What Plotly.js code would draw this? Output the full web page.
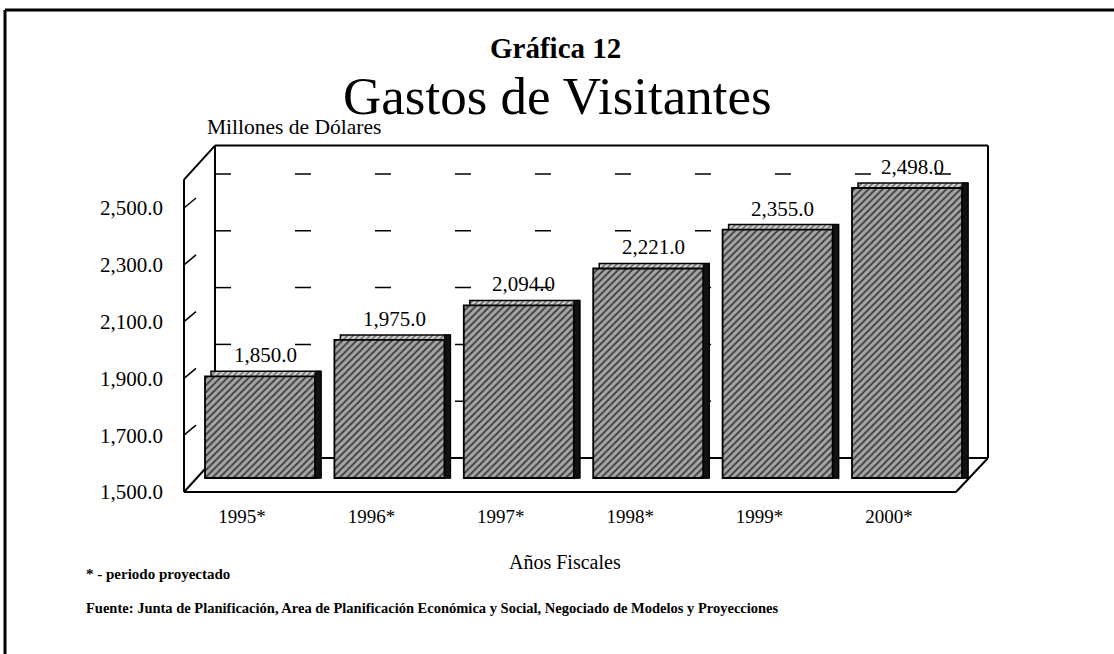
<!DOCTYPE html>
<html>
<head>
<meta charset="utf-8">
<script src="https://cdn.plot.ly/plotly-3.0.1.min.js"></script>
<style>
html,body{margin:0;padding:0;background:#ffffff;}
#chart{width:1114px;height:654px;}
</style>
</head>
<body>
<div id="chart"></div>
<script>
// ---------------- data ----------------
const years = ['1995*', '1996*', '1997*', '1998*', '1999*', '2000*'];
const gastos = [1850.0, 1975.0, 2094.0, 2221.0, 2355.0, 2498.0];
const valueLabels = ['1,850.0', '1,975.0', '2,094.0', '2,221.0', '2,355.0', '2,498.0'];
const yTickVals = [1500, 1700, 1900, 2100, 2300, 2500];
const yTickText = ['1,500.0', '1,700.0', '1,900.0', '2,100.0', '2,300.0', '2,500.0'];
const gridVals = [1700, 1900, 2100, 2300, 2500];

// ---------------- layout geometry (pixels) ----------------
const W = 1114, H = 654;
const px = x => x / W;
const py = y => 1 - y / H;
const BASE = 1500, WALLTOP = 2600;
const barBottomPix = 478, barScale = 0.2906;   // bar plane
const frontBottomPix = 492, axScale = 0.284;   // front (axis) plane
const backBottomPix = 458;                      // back wall plane
const domBottomPix = 500, domTopPix = 120;
const frontX = 184, backX = 215, backRight = 988, frontRight = 956;
const frontPix = v => frontBottomPix - (v - BASE) * axScale;
const backPix = v => backBottomPix - (v - BASE) * axScale;

const rangeFor = (bottomPix, scale) => [BASE - (domBottomPix - bottomPix) / scale, BASE + (bottomPix - domTopPix) / scale];

const slotPx = 129.4, firstCenter = 260;
const barW = 110 / slotPx;
const sideW = 6 / slotPx;
const topLift = 5 / barScale;

const serif = 'Liberation Serif, Times New Roman, serif';
const black = '#000000';

const patternFront = {shape: '/', bgcolor: '#a6a6a6', fgcolor: '#404040', size: 5, solidity: 0.38, fillmode: 'replace'};
const patternTop = {shape: '/', bgcolor: '#d0d0d0', fgcolor: '#555555', size: 4, solidity: 0.3, fillmode: 'replace'};

const heights = gastos.map(v => v - BASE);
const heightsTop = gastos.map(v => v + topLift - BASE);

const traces = [
  // helpers so the front and back axes exist
  {type: 'scatter', x: [years[0]], y: [BASE], yaxis: 'y2', mode: 'markers', marker: {opacity: 0}, hoverinfo: 'skip', showlegend: false},
  {type: 'scatter', x: [years[0]], y: [BASE], yaxis: 'y3', mode: 'markers', marker: {opacity: 0}, hoverinfo: 'skip', showlegend: false},
  // top face (shifted back)
  {type: 'bar', x: years, y: heightsTop, base: BASE, width: barW, offset: -barW / 2 + sideW,
   marker: {color: '#c8c8c8', pattern: patternTop, line: {color: black, width: 1.5}}, hoverinfo: 'skip', showlegend: false},
  // dark side face
  {type: 'bar', x: years, y: heightsTop, base: BASE, width: sideW, offset: barW / 2,
   marker: {color: '#111111', line: {color: black, width: 1}}, hoverinfo: 'skip', showlegend: false},
  // front face
  {type: 'bar', x: years, y: heights, base: BASE, width: barW, offset: -barW / 2,
   marker: {color: '#a6a6a6', pattern: patternFront, line: {color: black, width: 1.8}}, showlegend: false}
];

const shapes = [];
const L = (x0, y0, x1, y1, w) => shapes.push({type: 'line', xref: 'paper', yref: 'paper', x0: px(x0), y0: py(y0), x1: px(x1), y1: py(y1), line: {color: black, width: w || 2}, layer: 'below'});
// page frame
L(5, 10, W, 10, 3);
L(5, 10, 5, H, 3);
// back wall
L(backX, backPix(BASE), backX, backPix(WALLTOP), 2);
L(backX, backPix(WALLTOP), backRight, backPix(WALLTOP), 2);
L(backRight, backPix(WALLTOP), backRight, backPix(BASE), 2);
// floor
L(backX, backPix(BASE), backRight, backPix(BASE), 2);
L(frontX, frontPix(BASE), frontRight, frontPix(BASE), 2);
L(frontX, frontPix(BASE), backX, backPix(BASE), 2);
L(frontRight, frontPix(BASE), backRight, backPix(BASE), 2);
// front axis and left wall top
L(frontX, frontPix(BASE), frontX, frontPix(WALLTOP), 2);
L(frontX, frontPix(WALLTOP), backX, backPix(WALLTOP), 2);
// slanted ticks on the front axis
gridVals.forEach(v => shapes.push({type: 'line', xref: 'paper', x0: px(frontX), x1: px(frontX + 12),
  yref: 'y2', ysizemode: 'pixel', yanchor: v, y0: 0, y1: 10, line: {color: black, width: 1.5}, layer: 'below'}));
// dashed gridlines on the back wall
gridVals.forEach(v => shapes.push({type: 'line', xref: 'paper', x0: px(backX), x1: px(backRight - 2),
  yref: 'y3', y0: v, y1: v, line: {color: black, width: 1.5, dash: '16px,64px'}, layer: 'below'}));

const annotations = [
  {text: '<b>Gráfica 12</b>', xref: 'paper', yref: 'paper', x: px(555), y: py(64.5), xanchor: 'center', yanchor: 'bottom',
   borderpad: 0, showarrow: false, font: {family: serif, size: 29, color: black}},
  {text: 'Gastos de Visitantes', xref: 'paper', yref: 'paper', x: px(557), y: py(65.5), xanchor: 'center', yanchor: 'top',
   borderpad: 0, showarrow: false, font: {family: serif, size: 53, color: black}},
  {text: 'Millones de Dólares', xref: 'paper', yref: 'paper', x: px(205), y: py(127), xanchor: 'left', yanchor: 'middle', showarrow: false, font: {family: serif, size: 21.5, color: black}},
  {text: 'Años Fiscales', xref: 'paper', yref: 'paper', x: px(565), y: py(562), xanchor: 'center', yanchor: 'middle', showarrow: false, font: {family: serif, size: 20, color: black}},
  {text: '<b>* - periodo proyectado</b>', xref: 'paper', yref: 'paper', x: px(84), y: py(574), xanchor: 'left', yanchor: 'middle', showarrow: false, font: {family: serif, size: 15, color: black}},
  {text: '<b>Fuente: Junta de Planificación, Area de Planificación Económica y Social, Negociado de Modelos y Proyecciones</b>', xref: 'paper', yref: 'paper', x: px(84), y: py(608), xanchor: 'left', yanchor: 'middle', showarrow: false, font: {family: serif, size: 14.5, color: black}}
];
years.forEach((yr, i) => annotations.push({
  text: valueLabels[i], xref: 'x', yref: 'y', x: yr, y: gastos[i], yshift: 21, xshift: 5,
  xanchor: 'center', yanchor: 'middle', showarrow: false, font: {family: serif, size: 21, color: black}
}));

const layout = {
  width: W, height: H,
  margin: {l: 0, r: 0, t: 0, b: 0, pad: 0},
  paper_bgcolor: '#ffffff', plot_bgcolor: 'rgba(0,0,0,0)',
  barmode: 'overlay', showlegend: false,
  font: {family: serif, color: black},
  xaxis: {type: 'category', categoryorder: 'array', categoryarray: years, range: [-0.5, years.length - 0.5],
    domain: [px(firstCenter - slotPx / 2), px(firstCenter + slotPx * (years.length - 0.5))],
    showgrid: false, zeroline: false, showline: false, ticks: '', fixedrange: true,
    tickfont: {family: serif, size: 19, color: black}, ticklabelstandoff: 3, ticklabelshift: -18},
  yaxis: {domain: [py(domBottomPix), py(domTopPix)], range: rangeFor(barBottomPix, barScale),
    visible: false, showgrid: false, zeroline: false, fixedrange: true},
  yaxis2: {overlaying: 'y', anchor: 'free', position: px(frontX), side: 'left',
    range: rangeFor(frontBottomPix, axScale), tickmode: 'array', tickvals: yTickVals, ticktext: yTickText,
    showgrid: false, zeroline: false, showline: false, ticks: '', ticklabelstandoff: 21,
    tickfont: {family: serif, size: 21, color: black}, fixedrange: true},
  yaxis3: {overlaying: 'y', range: rangeFor(backBottomPix, axScale), visible: false,
    showgrid: false, zeroline: false, fixedrange: true},
  shapes: shapes,
  annotations: annotations
};

Plotly.newPlot('chart', traces, layout, {displayModeBar: false, staticPlot: true});
</script>
</body>
</html>
